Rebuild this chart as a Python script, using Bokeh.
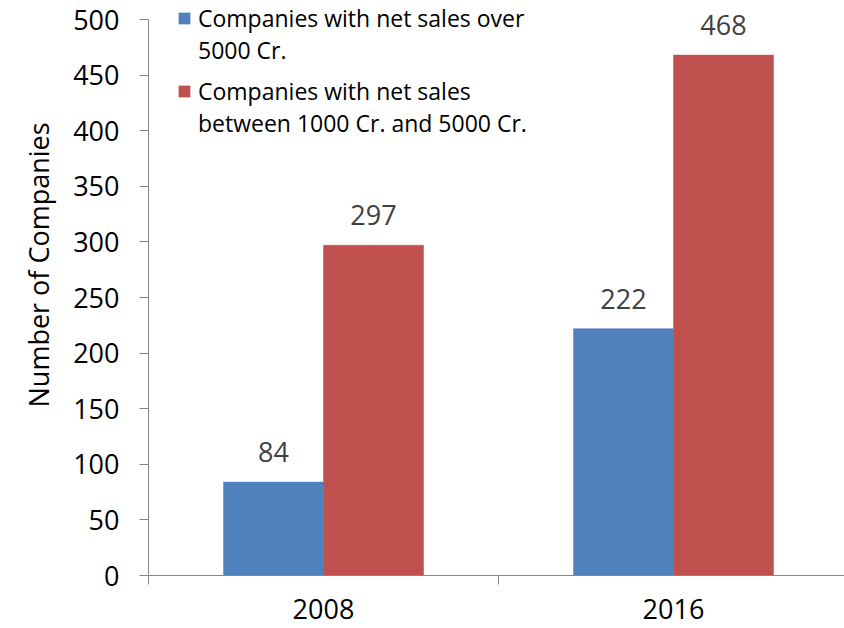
from bokeh.plotting import figure
from bokeh.models import FixedTicker, Legend, LegendItem, ColumnDataSource, Range1d, Title
from bokeh.core.properties import value
from bokeh.embed import file_html
from bokeh.resources import INLINE

# ---- data ----
years = ["2008", "2016"]
over_5000 = [84, 222]
between_1000_5000 = [297, 468]
y_ticks = [0, 50, 100, 150, 200, 250, 300, 350, 400, 450, 500]
y_title = "Number of Companies"
series1_lines = ["Companies with net sales over", "5000 Cr."]
series2_lines = ["Companies with net sales", "between 1000 Cr. and 5000 Cr."]

BLUE = "#4F81BD"
RED = "#C0504D"
AXIS = "#868686"
FONT = "Open Sans"

W, H = 844, 628
LEFT, TOP, BOTTOM = 148, 19, 53
CAT_PX = 350  # pixel width of one category
Y_MAX = 500
plot_px = H - TOP - BOTTOM            # pixels covering 0..Y_MAX
y_end = Y_MAX + TOP * Y_MAX / plot_px  # extend frame to the top edge

n = len(years)
centers = [i + 0.5 for i in range(n)]
bar_w = 100 / CAT_PX
x_blue = [c - bar_w / 2 for c in centers]
x_red = [c + bar_w / 2 for c in centers]

src = ColumnDataSource(dict(year=years, x_blue=x_blue, x_red=x_red,
                            blue=over_5000, red=between_1000_5000,
                            blue_txt=[str(v) for v in over_5000],
                            red_txt=[str(v) for v in between_1000_5000]))

p = figure(width=W, height=H, output_backend="svg", toolbar_location=None,
           x_range=Range1d(0, (W - LEFT) / CAT_PX), y_range=Range1d(0, y_end),
           min_border_left=LEFT, min_border_right=0, min_border_top=0,
           min_border_bottom=BOTTOM)
p.outline_line_color = None
p.xgrid.visible = False
p.ygrid.visible = False
p.background_fill_color = "white"
p.border_fill_color = "white"

r_blue = p.vbar(x="x_blue", top="blue", width=bar_w, source=src,
                fill_color=BLUE, line_color=BLUE, line_width=0.5)
r_red = p.vbar(x="x_red", top="red", width=bar_w, source=src,
               fill_color=RED, line_color=RED, line_width=0.5)

# data labels
for xcol, tcol, vcol in [("x_blue", "blue_txt", "blue"), ("x_red", "red_txt", "red")]:
    p.text(x=xcol, y=vcol, text=tcol, source=src, text_align="center",
           text_baseline="alphabetic", y_offset=-30,
           text_font=value(FONT), text_font_size="27px", text_color="#404040")

# axes
yax = p.yaxis[0]
yax.ticker = FixedTicker(ticks=y_ticks)
yax.bounds = (0, Y_MAX)
yax.major_label_text_font = FONT
yax.major_label_text_font_size = "27px"
yax.major_label_text_color = "black"
yax.major_label_standoff = 20
yax.major_tick_out = 9
yax.major_tick_in = 0
yax.minor_tick_line_color = None
yax.axis_line_color = AXIS
yax.major_tick_line_color = AXIS

# y-axis title as a left-side title, starting a little above the frame bottom
p.add_layout(Title(text=y_title, align="left", offset=168, standoff=24,
                   vertical_align="top",
                   text_font=FONT, text_font_size="27px",
                   text_font_style="normal", text_color="black"), "left")

xax = p.xaxis[0]
xax.ticker = FixedTicker(ticks=centers, minor_ticks=[float(i) for i in range(n + 1)])
xax.major_label_overrides = {c: y for c, y in zip(centers, years)}
xax.major_label_text_font = FONT
xax.major_label_text_font_size = "27px"
xax.major_label_text_line_height = 1.0
xax.major_label_text_color = "black"
xax.major_label_standoff = 14
xax.major_tick_out = 0
xax.major_tick_in = 0
xax.minor_tick_out = 9
xax.minor_tick_in = 0
xax.minor_tick_line_color = AXIS
xax.axis_line_color = AXIS

# legend (two blocks, each with a two-line label)
dummy = p.vbar(x=[], top=[], width=0.1, fill_alpha=0, line_alpha=0)

def make_legend(renderer, lines, loc):
    items = [LegendItem(label=lines[0], renderers=[renderer]),
             LegendItem(label=lines[1], renderers=[dummy])]
    lg = Legend(items=items, location=loc, orientation="vertical",
                glyph_width=14, glyph_height=14, label_standoff=7,
                label_height=28, spacing=0, padding=0, margin=0,
                border_line_color=None, background_fill_alpha=0,
                label_text_font=FONT, label_text_font_size="23px",
                label_text_color="black")
    p.add_layout(lg, "center")

make_legend(r_blue, series1_lines, (29, 509))
make_legend(r_red, series2_lines, (29, 436))

open("out.html", "w").write(file_html(p, INLINE))
